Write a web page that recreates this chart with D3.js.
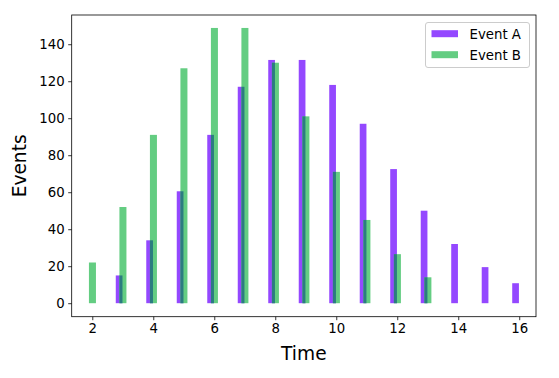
<!DOCTYPE html>
<html>
<head>
<meta charset="utf-8">
<script src="https://cdn.jsdelivr.net/npm/d3@7"></script>
<style>
  body { margin: 0; background: #fff; }
  svg { font-family: "DejaVu Sans", sans-serif; }
</style>
</head>
<body>
<svg id="chart"></svg>
<script>
// data
const timesA = [3, 4, 5, 6, 7, 8, 9, 10, 11, 12, 13, 14, 15, 16];
const eventsA = [15, 34, 60.5, 91, 117, 131.5, 131.5, 118, 97, 72.5, 50, 32, 19.5, 10.8];
const timesB = [2, 3, 4, 5, 6, 7, 8, 9, 10, 11, 12, 13];
const eventsB = [22, 52, 91, 127, 148.8, 148.8, 130, 101, 71, 45, 26.5, 14];
const xTicks = [2, 4, 6, 8, 10, 12, 14, 16];
const yTicks = [0, 20, 40, 60, 80, 100, 120, 140];
const seriesNames = ["Event A", "Event B"];

const svgWidth = 559;
const svgHeight = 378;
const margin = { top: 15, right: 23, bottom: 61.3, left: 71.7 };
const width = svgWidth - margin.left - margin.right;
const height = svgHeight - margin.top - margin.bottom;

const colorA = "#9448ff";
const colorB = "#64cd82";
const colorBoth = "#2b7c80";

const svg = d3.select("#chart").attr("width", svgWidth).attr("height", svgHeight);
const g = svg.append("g").attr("transform", `translate(${margin.left},${margin.top})`);

const xScale = d3.scaleLinear().domain([1.325, 16.55]).range([0, width]);
const yScale = d3.scaleLinear().domain([-7.3, 155.8]).range([height, 0]);

// bar offsets (in data units) relative to the time value
const offA = [-0.23, -0.01];
const offB = [-0.11, 0.12];

const dataA = timesA.map((t, i) => ({ t, v: eventsA[i] }));
const dataB = timesB.map((t, i) => ({ t, v: eventsB[i] }));

g.selectAll(".barA")
  .data(dataA)
  .enter()
  .append("rect")
  .attr("class", "barA")
  .attr("x", (d) => xScale(d.t + offA[0]))
  .attr("width", (d) => xScale(d.t + offA[1]) - xScale(d.t + offA[0]))
  .attr("y", (d) => yScale(d.v))
  .attr("height", (d) => yScale(0) - yScale(d.v))
  .attr("fill", colorA);

g.selectAll(".barB")
  .data(dataB)
  .enter()
  .append("rect")
  .attr("class", "barB")
  .attr("x", (d) => xScale(d.t + offB[0]))
  .attr("width", (d) => xScale(d.t + offB[1]) - xScale(d.t + offB[0]))
  .attr("y", (d) => yScale(d.v))
  .attr("height", (d) => yScale(0) - yScale(d.v))
  .attr("fill", colorB);

// where the two bars overlap the colours mix into a dark teal
const overlap = dataA
  .filter((d) => timesB.includes(d.t))
  .map((d) => ({ t: d.t, v: Math.min(d.v, eventsB[timesB.indexOf(d.t)]) }));

g.selectAll(".barBoth")
  .data(overlap)
  .enter()
  .append("rect")
  .attr("class", "barBoth")
  .attr("x", (d) => xScale(d.t + offB[0]))
  .attr("width", (d) => xScale(d.t + offA[1]) - xScale(d.t + offB[0]))
  .attr("y", (d) => yScale(d.v))
  .attr("height", (d) => yScale(0) - yScale(d.v))
  .attr("fill", colorBoth);

// axes
const xAxis = g.append("g")
  .attr("transform", `translate(0,${height})`)
  .call(d3.axisBottom(xScale).tickValues(xTicks).tickSize(3.5).tickPadding(3.5).tickSizeOuter(0));
const yAxis = g.append("g")
  .call(d3.axisLeft(yScale).tickValues(yTicks).tickSize(3.5).tickPadding(3.5).tickSizeOuter(0));

[xAxis, yAxis].forEach((ax) => {
  ax.select(".domain").remove();
  ax.selectAll("line").attr("stroke", "#000").attr("stroke-width", 0.8);
  ax.selectAll("text").attr("fill", "#000").style("font-size", "13.3px").style("font-family", "DejaVu Sans");
});

// frame
g.append("rect")
  .attr("width", width)
  .attr("height", height)
  .attr("fill", "none")
  .attr("stroke", "#000")
  .attr("stroke-width", 0.8);

// axis labels
svg.append("text")
  .attr("x", margin.left + width / 2)
  .attr("y", 360)
  .attr("text-anchor", "middle")
  .style("font-size", "18.6px")
  .text("Time");

svg.append("text")
  .attr("transform", `translate(25.5,${margin.top + height / 2}) rotate(-90)`)
  .attr("text-anchor", "middle")
  .style("font-size", "18.6px")
  .text("Events");

// legend
const legend = svg.append("g").attr("transform", "translate(425.5,22.5)");
legend.append("rect")
  .attr("width", 104)
  .attr("height", 45)
  .attr("rx", 2.5)
  .attr("fill", "#fff")
  .attr("fill-opacity", 0.8)
  .attr("stroke", "#ccc")
  .attr("stroke-width", 1);

const items = legend.selectAll(".item")
  .data(seriesNames)
  .enter()
  .append("g")
  .attr("class", "item")
  .attr("transform", (d, i) => `translate(6,${11.2 + i * 21})`);

items.append("rect")
  .attr("y", -3.5)
  .attr("width", 26.5)
  .attr("height", 7)
  .attr("fill", (d, i) => (i === 0 ? colorA : colorB));

items.append("text")
  .attr("x", 38)
  .attr("y", 4.8)
  .style("font-size", "13.3px")
  .text((d) => d);
</script>
</body>
</html>
